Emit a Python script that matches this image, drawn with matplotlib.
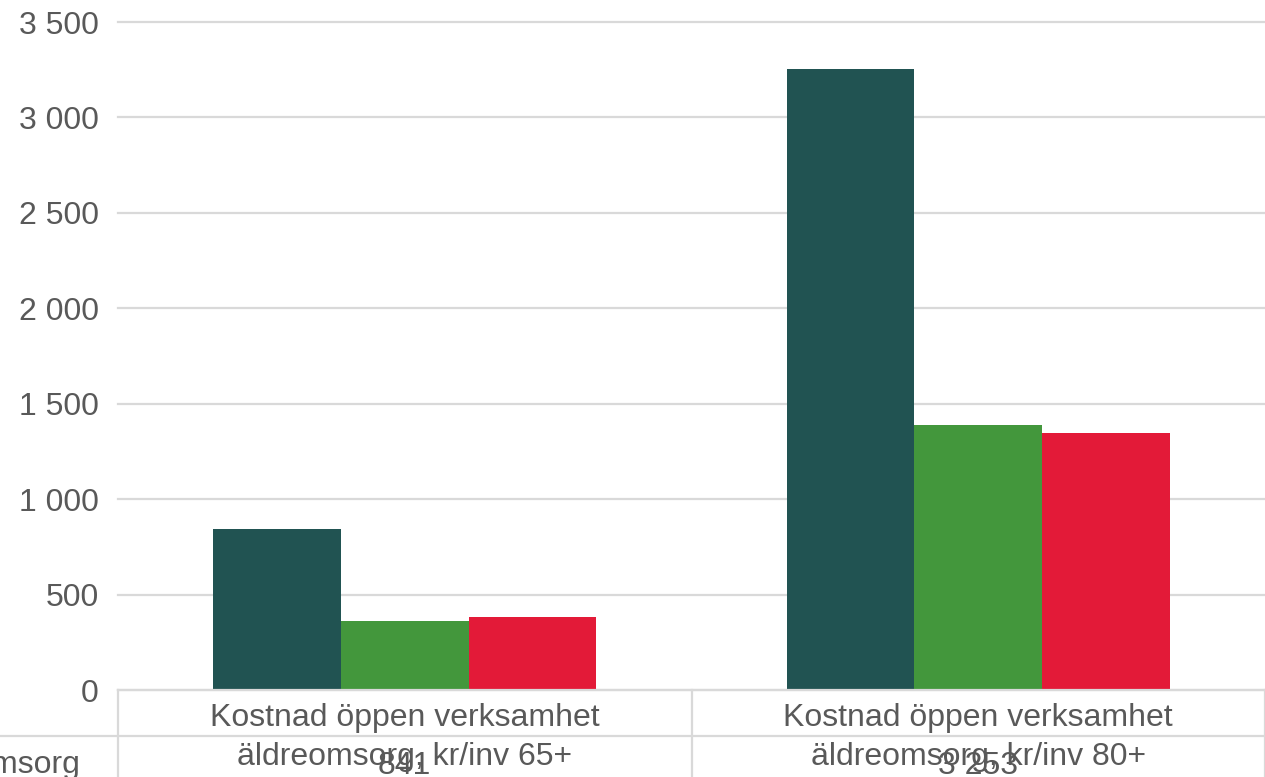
import matplotlib.pyplot as plt
import matplotlib.transforms as mtransforms
import numpy as np

plt.rcParams['font.family'] = ['Liberation Sans', 'DejaVu Sans']

# data
categories = ['Kostnad öppen verksamhet\näldreomsorg, kr/inv 65+',
              'Kostnad öppen verksamhet\näldreomsorg, kr/inv 80+']
series_dark = [841, 3253]
series_green = [362, 1389]
series_red = [381, 1347]
table_values = ['841', '3 253']
row_label = 'äldreomsorg'
yticks = [0, 500, 1000, 1500, 2000, 2500, 3000, 3500]
ytick_labels = ['0', '500', '1 000', '1 500', '2 000', '2 500', '3 000', '3 500']

text_col = '#595959'
grid_col = '#d9d9d9'
colors = ['#215352', '#43973c', '#e31a38']

W, H = 1265, 777
fig = plt.figure(figsize=(W / 100, H / 100), dpi=100)
ax = fig.add_axes([118 / W, (H - 690) / H, (W - 118) / W, (690 - 22) / H])

x = np.arange(len(categories))
bw = 0.2225
for i, (vals, c) in enumerate(zip([series_dark, series_green, series_red], colors)):
    ax.bar(x + (i - 1) * bw, vals, width=bw, color=c, zorder=1,
           edgecolor='none', linewidth=0)

ax.set_xlim(-0.5, len(categories) - 0.5)
ax.set_ylim(0, 3500)
ax.set_yticks(yticks)
ax.set_yticklabels(ytick_labels, fontsize=23, color=text_col)
ax.tick_params(axis='y', length=0, pad=14)
ax.set_xticks([])
ax.yaxis.grid(True, color=grid_col, linewidth=1.6, zorder=0)
ax.set_axisbelow(True)
for s in ax.spines.values():
    s.set_visible(False)
for gl in ax.get_ygridlines():
    gl.set_clip_on(False)

# data table below the axis
trans = mtransforms.blended_transform_factory(ax.transData, ax.transAxes)
ph = 690 - 22  # axes height in px
y_top = 0.0
y_mid = -(736 - 690) / ph
y_bot = -(777 - 690) / ph
line_kw = dict(color=grid_col, linewidth=1.6, clip_on=False, zorder=3)
ax.plot([-0.5, len(categories) - 0.5], [y_top, y_top], transform=trans, **line_kw)
ax.plot([-0.5 - 118 / 573.5, len(categories) - 0.5], [y_mid, y_mid], transform=trans, **line_kw)
for b in np.arange(len(categories) + 1) - 0.5:
    ax.plot([b, b], [y_top, y_bot - 0.05], transform=trans, **line_kw)

for i, cat in enumerate(categories):
    l1, l2 = cat.split('\n')
    ax.text(i, -(718 - 690) / ph, l1, transform=trans, ha='center', va='center',
            fontsize=23, color=text_col, clip_on=False)
    ax.text(i, -(757 - 690) / ph, l2, transform=trans, ha='center', va='center',
            fontsize=23, color=text_col, clip_on=False)
    ax.text(i, -(766 - 690) / ph, table_values[i], transform=trans, ha='center',
            va='center', fontsize=23, color=text_col, clip_on=False)

fig.text(81 / W, (H - 773) / H, row_label, ha='right', va='baseline',
         fontsize=23, color=text_col)

fig.savefig('out.png', dpi=100)
